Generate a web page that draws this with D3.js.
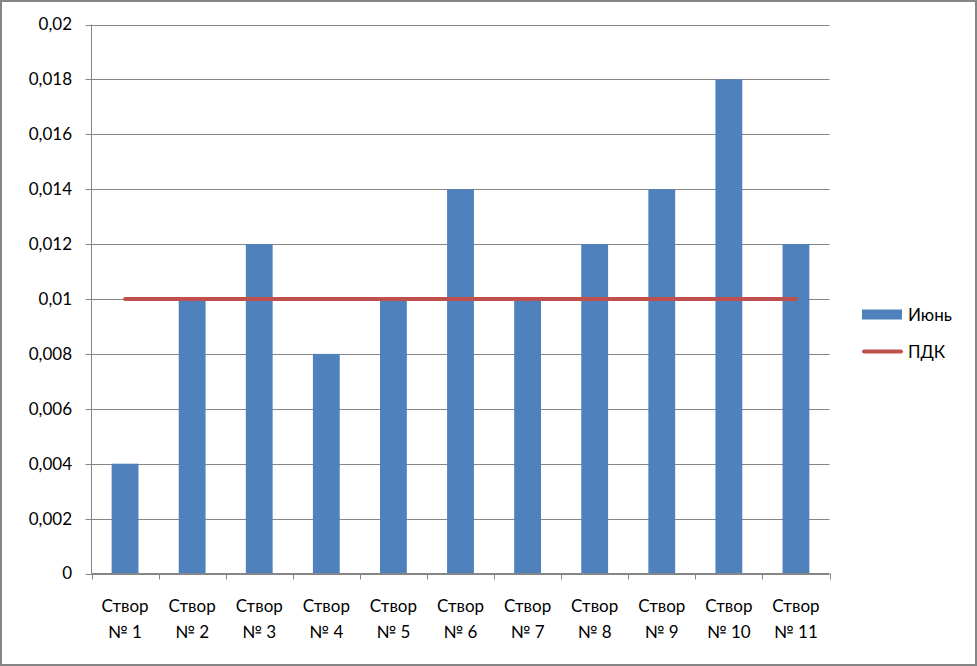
<!DOCTYPE html>
<html><head><meta charset="utf-8">
<script src="https://cdn.jsdelivr.net/npm/d3@7"></script>
<style>html,body{margin:0;padding:0;background:#fff;}svg{display:block;}</style>
</head><body>
<svg id="c" width="977" height="666"></svg>
<script>
const categories = ["Створ № 1","Створ № 2","Створ № 3","Створ № 4","Створ № 5","Створ № 6","Створ № 7","Створ № 8","Створ № 9","Створ № 10","Створ № 11"];
const june = [0.004,0.010,0.012,0.008,0.010,0.014,0.010,0.012,0.014,0.018,0.012];
const pdk = [0.01,0.01,0.01,0.01,0.01,0.01,0.01,0.01,0.01,0.01,0.01];
const yTicks = [0,0.002,0.004,0.006,0.008,0.01,0.012,0.014,0.016,0.018,0.02];
const seriesNames = ["Июнь","ПДК"];

const svg = d3.select("#c");
const font = "Lato, 'DejaVu Sans', sans-serif";
const W=977,H=666;
svg.append("rect").attr("x",1).attr("y",1).attr("width",W-2).attr("height",H-2)
  .attr("fill","#fff").attr("stroke","#868686").attr("stroke-width",2);

const L=91.5,R=829.5,T=24.5,B=573.5;
const x = d3.scaleBand().domain(categories).range([L,R]).paddingInner(0).paddingOuter(0);
const y = d3.scaleLinear().domain([0,0.02]).range([B,T]);
const fmt = d => String(+d.toFixed(3)).replace(".",",");

// gridlines
svg.append("g").selectAll("line").data(yTicks).join("line")
  .attr("x1",L-6).attr("x2",R).attr("y1",d=>Math.round(y(d))+0.5).attr("y2",d=>Math.round(y(d))+0.5)
  .attr("stroke","#868686").attr("stroke-width",1);
// y axis
svg.append("line").attr("x1",L).attr("x2",L).attr("y1",T).attr("y2",B).attr("stroke","#868686");
svg.append("g").selectAll("text").data(yTicks).join("text")
  .attr("x",72).attr("y",d=>y(d)).attr("dy","0.35em").attr("text-anchor","end")
  .attr("font-family",font).attr("font-size",17).attr("fill","#000").text(fmt);

// bars
const bw = x.bandwidth()*0.4;
svg.append("g").selectAll("rect").data(june).join("rect")
  .attr("x",(d,i)=>x(categories[i])+x.bandwidth()/2-bw/2)
  .attr("width",bw)
  .attr("y",d=>y(d)).attr("height",d=>B-y(d))
  .attr("fill","#4F81BD");

// x axis
svg.append("line").attr("x1",L).attr("x2",R).attr("y1",B).attr("y2",B).attr("stroke","#868686");
const xt = categories.map(c=>x(c)).concat([R]);
svg.append("g").selectAll("line").data(xt).join("line")
  .attr("x1",d=>Math.round(d)+0.5).attr("x2",d=>Math.round(d)+0.5).attr("y1",B).attr("y2",B+6)
  .attr("stroke","#868686");
const lab = svg.append("g").selectAll("text").data(categories).join("text")
  .attr("text-anchor","middle").attr("font-family",font).attr("font-size",17).attr("fill","#000");
lab.append("tspan").attr("x",d=>x(d)+x.bandwidth()/2).attr("y",612).text(d=>d.split(" ")[0]);
lab.append("tspan").attr("x",d=>x(d)+x.bandwidth()/2).attr("y",638).text(d=>d.split(" ").slice(1).join(" "));

// PDK line
const line = d3.line().x((d,i)=>x(categories[i])+x.bandwidth()/2).y(d=>y(d));
svg.append("path").datum(pdk).attr("d",line).attr("fill","none")
  .attr("stroke","#C0504D").attr("stroke-width",4).attr("stroke-linecap","round");

// legend
svg.append("rect").attr("x",862).attr("y",309.5).attr("width",40).attr("height",10).attr("fill","#4F81BD");
svg.append("line").attr("x1",864).attr("x2",901).attr("y1",351.5).attr("y2",351.5)
  .attr("stroke","#C0504D").attr("stroke-width",4).attr("stroke-linecap","round");
svg.append("text").attr("x",908).attr("y",320.5).attr("font-family",font).attr("font-size",17).attr("fill","#000").text(seriesNames[0]);
svg.append("text").attr("x",908).attr("y",358).attr("font-family",font).attr("font-size",17).attr("fill","#000").text(seriesNames[1]);
</script>
</body></html>
